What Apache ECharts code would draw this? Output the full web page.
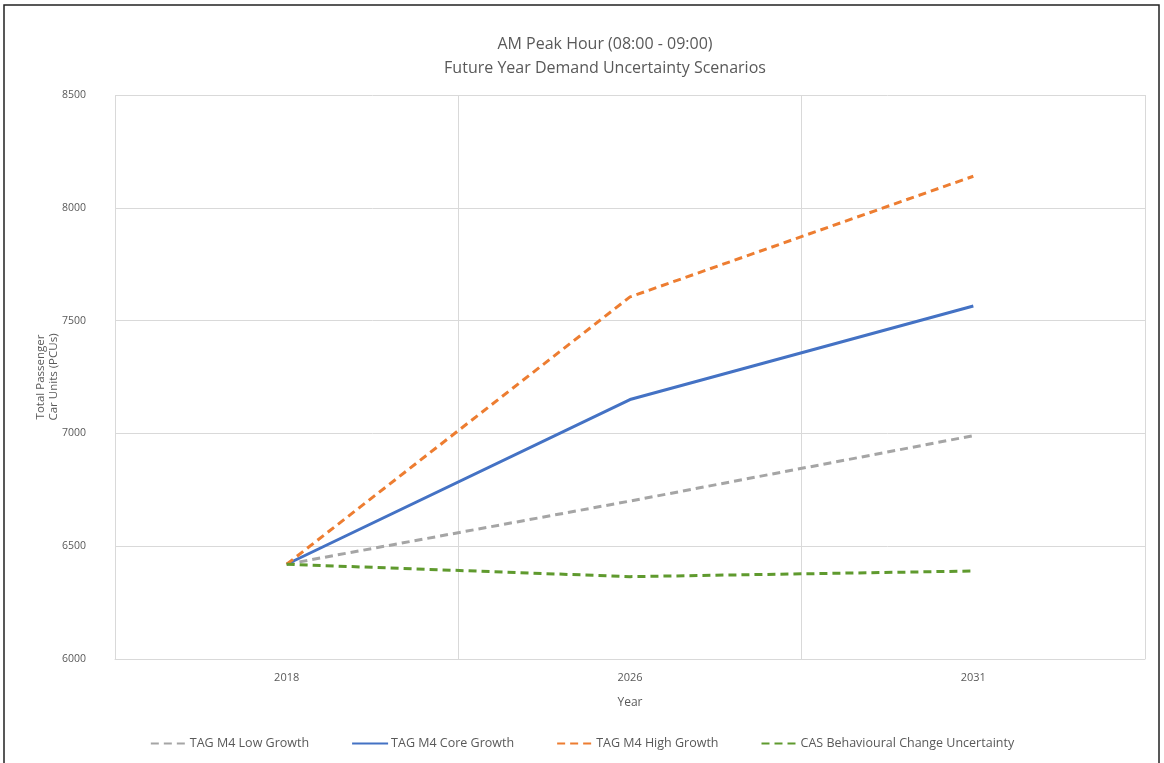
<!DOCTYPE html>
<html><head><meta charset="utf-8">
<script src="https://cdn.jsdelivr.net/npm/echarts@6/dist/echarts.min.js"></script>
<style>html,body{margin:0;padding:0;background:#fff}#c{width:1164px;height:763px}</style>
</head><body><div id="c"></div>
<script>
const years = ['2018', '2026', '2031'];
const lowGrowth = [6420, 6700, 6990];
const coreGrowth = [6420, 7150, 7565];
const highGrowth = [6420, 7605, 8140];
const casBehavioural = [6420, 6365, 6390];
const seriesNames = ['TAG M4 Low Growth', 'TAG M4 Core Growth', 'TAG M4 High Growth', 'CAS Behavioural Change Uncertainty'];

const font = 'Open Sans';
const chart = echarts.init(document.getElementById('c'), null, {renderer: 'canvas'});
function mk(name, data, color, type) {
  return {name, type: 'line', data, symbol: 'none', smooth: false,
    lineStyle: {color, width: 3, type}, itemStyle: {color}};
}
chart.setOption({
  animation: false,
  textStyle: {fontFamily: font},
  graphic: [
    {type: 'rect', shape: {x: 4, y: 5, width: 1155, height: 770}, style: {fill: 'none', stroke: '#222', lineWidth: 1.5}, silent: true},
    {type: 'line', shape: {x1: 1145.5, y1: 95, x2: 1145.5, y2: 659}, style: {stroke: '#d9d9d9', lineWidth: 1}, silent: true}
  ],
  title: {
    text: 'AM Peak Hour (08:00 - 09:00)\nFuture Year Demand Uncertainty Scenarios',
    left: 600, top: 27, textAlign: 'center',
    textStyle: {fontSize: 16, fontWeight: 'normal', color: '#595959', lineHeight: 24, fontFamily: font}
  },
  grid: {left: 115, right: 19, top: 95, bottom: 104},
  xAxis: {
    type: 'category', data: years, boundaryGap: true,
    name: 'Year', nameLocation: 'middle', nameGap: 38,
    nameTextStyle: {fontSize: 12, color: '#595959'},
    axisLine: {show: true, lineStyle: {color: '#d9d9d9'}},
    axisTick: {show: false},
    axisLabel: {fontSize: 11, color: '#595959', margin: 13},
    splitLine: {show: true, lineStyle: {color: '#d9d9d9', width: 1}}
  },
  yAxis: {
    type: 'value', min: 6000, max: 8500, interval: 500,
    name: 'Total Passenger\nCar Units (PCUs)', nameLocation: 'middle', nameGap: 55, nameRotate: 90,
    nameMoveOverlap: false,
    nameTextStyle: {fontSize: 11.5, color: '#595959', lineHeight: 13},
    axisLine: {show: false}, axisTick: {show: false},
    axisLabel: {fontSize: 10.5, color: '#595959', margin: 29, formatter: v => String(v)},
    splitLine: {lineStyle: {color: '#d9d9d9', width: 1}}
  },
  legend: {
    bottom: 8, left: 'center', itemWidth: 36, itemHeight: 10, itemGap: 42,
    itemStyle: {opacity: 0},
    textStyle: {fontSize: 12.5, color: '#595959', padding: [0, 0, 0, -2]},
    data: seriesNames
  },
  series: [
    mk(seriesNames[0], lowGrowth, '#a5a5a5', [8, 5]),
    mk(seriesNames[1], coreGrowth, '#4472c4', 'solid'),
    mk(seriesNames[2], highGrowth, '#ed7d31', [8, 5]),
    mk(seriesNames[3], casBehavioural, '#5f9a2e', [8, 5])
  ]
});
</script></body></html>
